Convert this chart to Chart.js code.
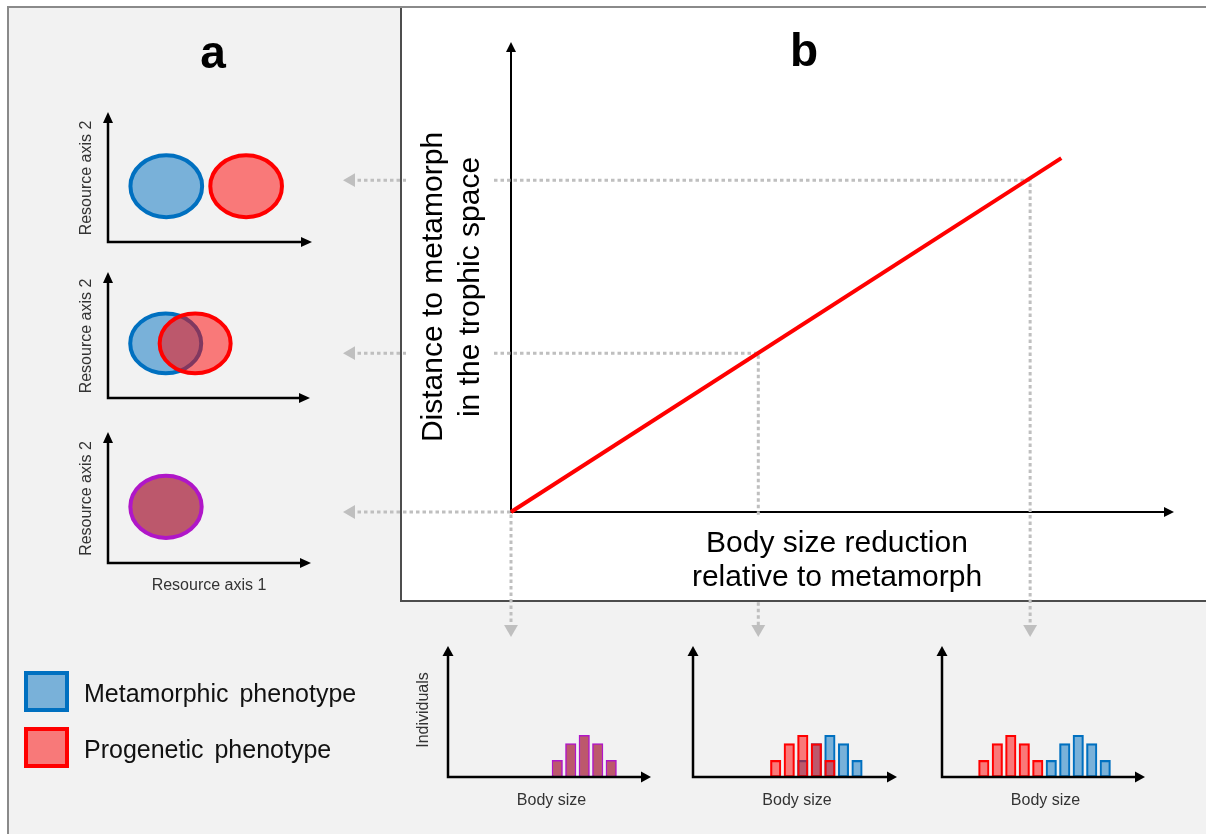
<!DOCTYPE html>
<html><head><meta charset="utf-8">
<script src="https://cdn.jsdelivr.net/npm/chart.js@4.4.1/dist/chart.umd.min.js"></script>
<style>
html,body{margin:0;padding:0;background:#fff;width:1206px;height:834px;overflow:hidden}
#frame{position:absolute;left:7px;top:6px;width:1210px;height:840px;background:#f2f2f2;border-left:2px solid #8a8a8a;border-top:2px solid #8a8a8a}
#panelB{position:absolute;left:400px;top:8px;width:820px;height:592px;background:#fff;border-left:2px solid #4d4d4d;border-bottom:2px solid #4d4d4d}
canvas{position:absolute;left:0;top:0;pointer-events:none}
</style></head><body>
<div id="frame"></div><div id="panelB"></div>
<canvas id="main" width="1206" height="834"></canvas>
<canvas id="niche0" width="1206" height="834"></canvas>
<canvas id="niche1" width="1206" height="834"></canvas>
<canvas id="niche2" width="1206" height="834"></canvas>
<canvas id="hist0" width="1206" height="834"></canvas>
<canvas id="hist1" width="1206" height="834"></canvas>
<canvas id="hist2" width="1206" height="834"></canvas>
<script>
// ---------------- DATA ----------------
// Panel b: distance to metamorph in trophic space vs body size reduction
const reductionLine = [0, 0.83];
const distanceLine = [0, 0.753];
// three illustrated scenarios (no, medium, strong reduction)
const scenarioReduction = [0, 0.373, 0.783];
const scenarioDistance = [0, 0.338, 0.706];

// Panel a: niche centres on resource axes 1 and 2, per scenario
const metamorphNicheAxis1 = [2.0, 2.0, 2.0];
const progeneticNicheAxis1 = [4.74, 3.02, 2.0];
const nicheAxis2 = [1.93, 1.95, 1.93];
const nicheBreadthAxis1 = [1.23, 1.23, 1.23];
const nicheBreadthAxis2 = [1.07, 1.07, 1.07];

// Histograms: body size bins and number of individuals, per scenario
const metamorphSizeBins = [8, 9, 10, 11, 12];
const metamorphIndividuals = [2, 4, 5, 4, 2];
const progeneticSizeBins = [[8, 9, 10, 11, 12], [6, 7, 8, 9, 10], [3, 4, 5, 6, 7]];
const progeneticIndividuals = [2, 4, 5, 4, 2];

// Text
const panelLabels = ['a', 'b'];
const legendLabels = ['Metamorphic phenotype', 'Progenetic phenotype'];
const yTitleLines = ['Distance to metamorph', 'in the trophic space'];
const xTitleLines = ['Body size reduction', 'relative to metamorph'];
const nicheAxisLabels = ['Resource axis 1', 'Resource axis 2'];
const histAxisLabels = ['Body size', 'Individuals'];

// ---------------- LAYOUT / STYLE ----------------
const W = 1206, H = 834;
const FONT = '"Liberation Sans", Arial, sans-serif';
const COL = {
  blueLine: '#0070c0', blueFill: 'rgba(0,112,192,0.5)', blueSolid: '#79b1d9',
  redLine: '#ff0000', redFill: 'rgba(255,0,0,0.5)', redSolid: '#f87979',
  bothLine: '#b016c8', bothFill: 'rgb(188,88,108)',
  guide: '#bfbfbf'
};
// main plot: value 0 -> X0/Y0, value 1 -> X1/Y1 (page pixels)
const X0 = 511, X1 = 1174, Y0 = 512, Y1 = 42;
const mainArea = {l: 340, r: X1, t: Y1, b: 640};
const guideLeftEnd = (351 - X0) / (X1 - X0);
const guideBottomEnd = (Y0 - 629) / (Y0 - Y1);
const nicheAreas = [{l:108,r:312,t:112,b:242},{l:108,r:310,t:272,b:398},{l:108,r:311,t:432,b:563}];
const histAreas = [{l:448,r:651,t:646,b:777},{l:693,r:897,t:646,b:777},{l:942,r:1145,t:646,b:777}];

function padFor(a){ return {left:a.l, top:a.t, right:W-a.r, bottom:H-a.b}; }
function baseOpts(a){
  return {responsive:false, animation:false, devicePixelRatio:1, events:[],
    layout:{padding:padFor(a)},
    plugins:{legend:{display:false}, tooltip:{enabled:false}, title:{display:false}}};
}
function arrowAxes(ctx, left, top, right, bottom, lw, len, half){
  ctx.save();
  ctx.strokeStyle = '#000'; ctx.fillStyle = '#000'; ctx.lineWidth = lw; ctx.lineJoin = 'miter';
  ctx.beginPath();
  ctx.moveTo(left, top + len - 1); ctx.lineTo(left, bottom); ctx.lineTo(right - len + 1, bottom);
  ctx.stroke();
  ctx.beginPath(); ctx.moveTo(left, top); ctx.lineTo(left - half, top + len); ctx.lineTo(left + half, top + len); ctx.closePath(); ctx.fill();
  ctx.beginPath(); ctx.moveTo(right, bottom); ctx.lineTo(right - len, bottom - half); ctx.lineTo(right - len, bottom + half); ctx.closePath(); ctx.fill();
  ctx.restore();
}
function txt(ctx, s, x, y, font, color, align, rot){
  ctx.save(); ctx.translate(x, y); if (rot) ctx.rotate(rot);
  ctx.font = font; ctx.fillStyle = color; ctx.textAlign = align || 'center'; ctx.textBaseline = 'alphabetic';
  ctx.fillText(s, 0, 0); ctx.restore();
}

// ---------------- MAIN CHART (panel b) ----------------
const mainDecor = {
  id: 'mainDecor',
  beforeDatasetsDraw(chart){
    const {ctx, scales:{x, y}} = chart;
    arrowAxes(ctx, x.getPixelForValue(0), y.getPixelForValue(1), x.getPixelForValue(1), y.getPixelForValue(0), 2, 10, 5);
  },
  afterDatasetsDraw(chart){
    const ctx = chart.ctx;
    ctx.save(); ctx.fillStyle = '#fff';
    ctx.fillRect(406, 110, 88, 350);
    ctx.fillRect(660, 515, 340, 85);
    ctx.restore();
    yTitleLines.forEach((s, i) => txt(ctx, s, 441.5 + i * 37, 287, '30px ' + FONT, '#000', 'center', -Math.PI / 2));
    xTitleLines.forEach((s, i) => txt(ctx, s, 837, 552 + i * 33.5, '30px ' + FONT, '#000', 'center'));
  },
  afterDraw(chart){
    const ctx = chart.ctx;
    txt(ctx, panelLabels[0], 213, 68, 'bold 46px ' + FONT, '#000', 'center');
    txt(ctx, panelLabels[1], 804, 66, 'bold 46px ' + FONT, '#000', 'center');
    const sw = [[COL.blueSolid, COL.blueLine, 671], [COL.redSolid, COL.redLine, 727]];
    sw.forEach(([f, s, top], i) => {
      ctx.save();
      ctx.fillStyle = f; ctx.fillRect(24, top, 45, 41);
      ctx.strokeStyle = s; ctx.lineWidth = 4; ctx.strokeRect(26, top + 2, 41, 37);
      ctx.font = '25px ' + FONT; ctx.fillStyle = '#111'; ctx.textAlign = 'left'; ctx.textBaseline = 'alphabetic';
      if ('wordSpacing' in ctx) ctx.wordSpacing = '4px';
      ctx.fillText(legendLabels[i], 84, top + 31);
      ctx.restore();
    });
  }
};

const guideSets = scenarioReduction.map((r, i) => ({
  type: 'line',
  data: [{x: guideLeftEnd, y: scenarioDistance[i]}, {x: r, y: scenarioDistance[i]}, {x: r, y: guideBottomEnd}],
  borderColor: COL.guide, borderWidth: 3, borderDash: [3.5, 3], tension: 0, fill: false,
  pointStyle: 'triangle',
  pointRadius: c => c.dataIndex === 1 ? 0 : 8,
  pointRotation: c => c.dataIndex === 0 ? -90 : 180,
  pointBackgroundColor: COL.guide, pointBorderColor: COL.guide, pointBorderWidth: 0,
  clip: false, order: 2
}));
const trendSet = {
  type: 'line',
  data: reductionLine.map((v, i) => ({x: v, y: distanceLine[i]})),
  borderColor: COL.redLine, borderWidth: 4, pointRadius: 0, tension: 0, fill: false, clip: false, order: 0
};
new Chart(document.getElementById('main'), {
  type: 'line',
  data: {datasets: [trendSet, ...guideSets]},
  options: Object.assign(baseOpts(mainArea), {
    scales: {
      x: {type: 'linear', display: false, min: (mainArea.l - X0) / (X1 - X0), max: 1},
      y: {type: 'linear', display: false, min: (Y0 - mainArea.b) / (Y0 - Y1), max: 1}
    }
  }),
  plugins: [mainDecor]
});

// ---------------- NICHE CHARTS (panel a) ----------------
const nichePlugin = {
  id: 'niches',
  afterDatasetsDraw(chart){
    const {ctx, scales:{x, y}} = chart;
    chart.data.datasets.forEach((ds, di) => {
      const meta = chart.getDatasetMeta(di);
      ds.data.forEach((p, i) => {
        const el = meta.data[i];
        const cx = el.x, cy = el.y;
        const rx = x.getPixelForValue(p.x + p.b1) - cx;
        const ry = cy - y.getPixelForValue(p.y + p.b2);
        ctx.save();
        ctx.beginPath(); ctx.ellipse(cx, cy, rx, ry, 0, 0, Math.PI * 2);
        ctx.fillStyle = ds.backgroundColor; ctx.fill();
        ctx.lineWidth = ds.borderWidth; ctx.strokeStyle = ds.borderColor; ctx.stroke();
        ctx.restore();
      });
    });
  },
  afterDraw(chart){
    const {ctx, chartArea:a} = chart;
    arrowAxes(ctx, a.left, a.top, a.right, a.bottom, 2.5, 11, 5);
    txt(ctx, nicheAxisLabels[1], 91, (a.top + a.bottom) / 2 + 1, '16px ' + FONT, '#333', 'center', -Math.PI / 2);
    if (chart.options.showAxis1Label) txt(ctx, nicheAxisLabels[0], 209, 590, '16px ' + FONT, '#333', 'center');
  }
};
nicheAreas.forEach((area, i) => {
  const pt = (cx) => ({x: cx, y: nicheAxis2[i], b1: nicheBreadthAxis1[i], b2: nicheBreadthAxis2[i]});
  let sets;
  if (metamorphNicheAxis1[i] === progeneticNicheAxis1[i]) {
    sets = [{label: 'Both phenotypes', data: [pt(metamorphNicheAxis1[i])], backgroundColor: COL.bothFill, borderColor: COL.bothLine, borderWidth: 4, pointRadius: 0}];
  } else {
    sets = [
      {label: 'Metamorphic phenotype', data: [pt(metamorphNicheAxis1[i])], backgroundColor: COL.blueFill, borderColor: COL.blueLine, borderWidth: 4, pointRadius: 0},
      {label: 'Progenetic phenotype', data: [pt(progeneticNicheAxis1[i])], backgroundColor: COL.redFill, borderColor: COL.redLine, borderWidth: 4, pointRadius: 0}
    ];
  }
  new Chart(document.getElementById('niche' + i), {
    type: 'scatter',
    data: {datasets: sets},
    options: Object.assign(baseOpts(area), {
      showAxis1Label: i === 2,
      scales: {x: {type: 'linear', display: false, min: 0, max: 7}, y: {type: 'linear', display: false, min: 0, max: 4.5}}
    }),
    plugins: [nichePlugin]
  });
});

// ---------------- HISTOGRAMS ----------------
const histPlugin = {
  id: 'histAxes',
  afterDraw(chart){
    const {ctx, chartArea:a} = chart;
    arrowAxes(ctx, a.left, a.top, a.right, a.bottom, 2.5, 10, 5.5);
    txt(ctx, histAxisLabels[0], (a.left + a.right) / 2 + 2, 805, '16px ' + FONT, '#333', 'center');
    if (chart.options.showYLabel) txt(ctx, histAxisLabels[1], 428, 710, '16px ' + FONT, '#333', 'center', -Math.PI / 2);
  }
};
histAreas.forEach((area, i) => {
  const same = progeneticSizeBins[i].every((v, j) => v === metamorphSizeBins[j]);
  const common = {grouped: false, barThickness: 10.5, borderWidth: 1.5, borderSkipped: false};
  let sets;
  if (same) {
    sets = [Object.assign({label: 'Both phenotypes', data: metamorphSizeBins.map((b, j) => ({x: b, y: metamorphIndividuals[j]})),
      backgroundColor: COL.bothFill, borderColor: COL.bothLine, order: 0}, common)];
  } else {
    sets = [
      Object.assign({label: 'Progenetic phenotype', data: progeneticSizeBins[i].map((b, j) => ({x: b, y: progeneticIndividuals[j]})),
        backgroundColor: COL.redFill, borderColor: COL.redLine, order: 0}, common),
      Object.assign({label: 'Metamorphic phenotype', data: metamorphSizeBins.map((b, j) => ({x: b, y: metamorphIndividuals[j]})),
        backgroundColor: COL.blueFill, borderColor: COL.blueLine, order: 1}, common)
    ];
  }
  new Chart(document.getElementById('hist' + i), {
    type: 'bar',
    data: {datasets: sets},
    options: Object.assign(baseOpts(area), {
      showYLabel: i === 0,
      scales: {
        x: {type: 'linear', display: false, offset: false, min: -0.1, max: 14.95},
        y: {type: 'linear', display: false, min: 0, max: 15.7}
      }
    }),
    plugins: [histPlugin]
  });
});
</script>
</body></html>
